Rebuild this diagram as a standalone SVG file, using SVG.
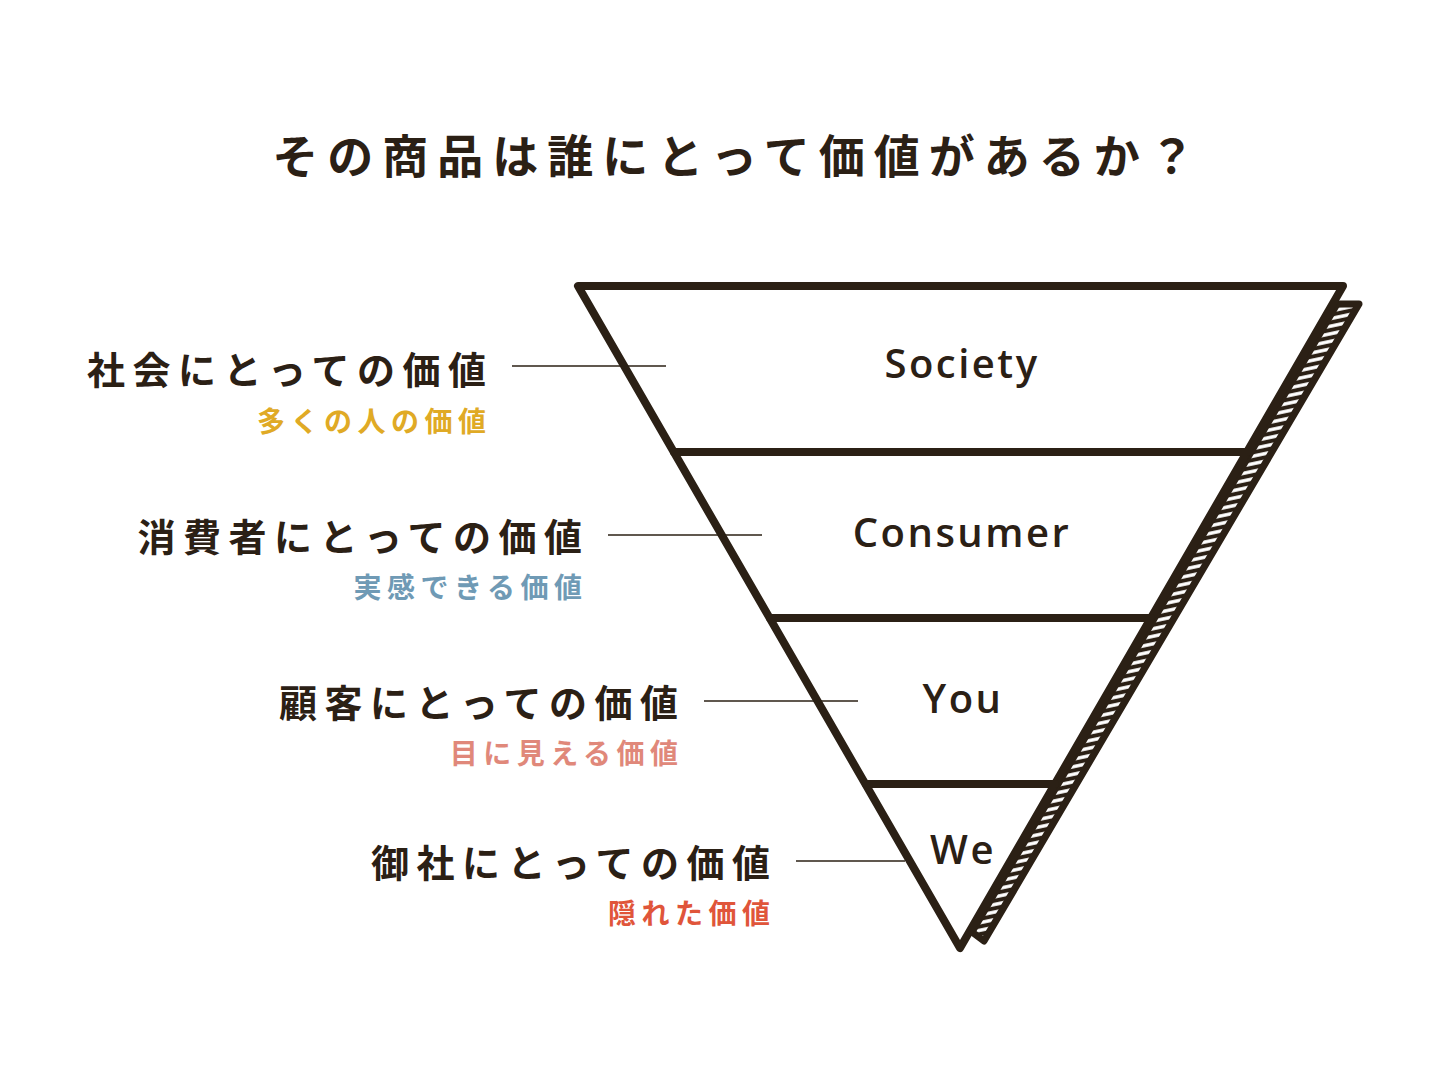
<svg xmlns="http://www.w3.org/2000/svg" width="1440" height="1080" viewBox="0 0 1440 1080">
<defs>
<pattern id="hatch" patternUnits="userSpaceOnUse" width="20" height="7.4" patternTransform="rotate(-12)">
<rect width="20" height="7.4" fill="#2b2015"/>
<rect y="2" width="20" height="3.4" fill="#ffffff"/>
</pattern>
<style>
.jp{font-family:"Noto Sans CJK JP","Noto Sans",sans-serif;font-weight:700;}
.main{font-size:38px;fill:#2b2015;letter-spacing:7.5px;text-anchor:end;}
.sub{font-size:28px;letter-spacing:5.5px;text-anchor:end;font-weight:600;}
.en{font-family:"Open Sans","Noto Sans",sans-serif;font-size:40px;font-weight:600;fill:#2b2015;letter-spacing:2.5px;text-anchor:middle;}
.edge{fill:none;stroke:#2b2015;stroke-width:8;stroke-linejoin:round;stroke-linecap:round;}
.conn{stroke:#2b2015;stroke-width:1.5;fill:none;}
</style>
</defs>
<rect width="1440" height="1080" fill="#ffffff"/>
<text class="jp" x="738" y="173" font-size="46" fill="#2b2015" text-anchor="middle" letter-spacing="9">その商品は誰にとって価値があるか？</text>

<g id="pyramid">
<polygon points="1337,304 1359,304 984,941 972,932" fill="url(#hatch)" stroke="#2b2015" stroke-width="7" stroke-linejoin="round"/>
<polygon class="edge" points="578,286 1343,286 960,948" fill="#ffffff"/>
<line class="edge" x1="674" y1="452" x2="1247" y2="452"/>
<line class="edge" x1="770" y1="618" x2="1151" y2="618"/>
<line class="edge" x1="866" y1="784" x2="1055" y2="784"/>
</g>

<g id="connectors">
<line class="conn" x1="512" y1="366" x2="666" y2="366"/>
<line class="conn" x1="608" y1="535" x2="762" y2="535"/>
<line class="conn" x1="704" y1="701" x2="858" y2="701"/>
<line class="conn" x1="796" y1="861" x2="905" y2="861"/>
</g>

<g id="society">
<text class="en" x="962" y="378">Society</text>
<text class="jp main" x="493.5" y="384">社会にとっての価値</text>
<text class="jp sub" x="491.5" y="432" fill="#e0aa25">多くの人の価値</text>
</g>
<g id="consumer">
<text class="en" x="962" y="547">Consumer</text>
<text class="jp main" x="589.5" y="551">消費者にとっての価値</text>
<text class="jp sub" x="587.5" y="598" fill="#6f9ab5">実感できる価値</text>
</g>
<g id="you">
<text class="en" x="963" y="713">You</text>
<text class="jp main" x="685.5" y="717">顧客にとっての価値</text>
<text class="jp sub" x="683.5" y="764" fill="#e0887a">目に見える価値</text>
</g>
<g id="we">
<text class="en" x="963" y="864">We</text>
<text class="jp main" x="777.5" y="877">御社にとっての価値</text>
<text class="jp sub" x="775.5" y="924" fill="#e0553a">隠れた価値</text>
</g>
</svg>
